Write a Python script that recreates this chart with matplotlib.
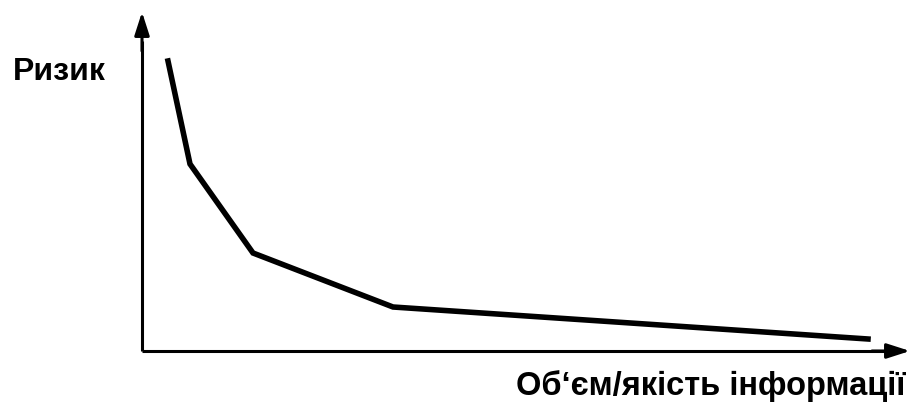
import matplotlib
matplotlib.use('Agg')
import matplotlib.pyplot as plt

# curve points (arbitrary units, origin at axis crossing)
x_vals = [26, 48, 111, 251, 726]
y_vals = [290, 187, 98, 44, 12]
y_label = 'Ризик'
x_label = 'Об‘єм/якість інформації'

plt.rcParams['font.family'] = ['Liberation Sans', 'DejaVu Sans']

fig = plt.figure(figsize=(9.12, 4.07), dpi=100)
ax = fig.add_axes([0, 0, 1, 1])
ax.set_xlim(-142, 912 - 142)
ax.set_ylim(351 - 407, 351)
ax.axis('off')

# axes with arrows
ax.plot([0, 0], [0, 310], color='black', lw=2.2, solid_capstyle='butt')
ax.plot([0, 745], [0, 0], color='black', lw=2.2, solid_capstyle='butt')
ax.annotate('', xy=(0, 339), xytext=(0, 300),
            arrowprops=dict(arrowstyle='-|>,head_length=1.4,head_width=0.45',
                            color='black', lw=2.2, shrinkA=0, shrinkB=0))
ax.annotate('', xy=(768, 0), xytext=(730, 0),
            arrowprops=dict(arrowstyle='-|>,head_length=1.4,head_width=0.45',
                            color='black', lw=2.2, shrinkA=0, shrinkB=0))

ax.plot(x_vals, y_vals, color='black', lw=4.0, solid_joinstyle='miter')

ax.text(-129, 271, y_label, fontsize=23, fontweight='bold', va='baseline', ha='left')
ax.text(763, -44, x_label, fontsize=23.5, fontweight='bold', va='baseline', ha='right')

fig.savefig('out.png', dpi=100)
